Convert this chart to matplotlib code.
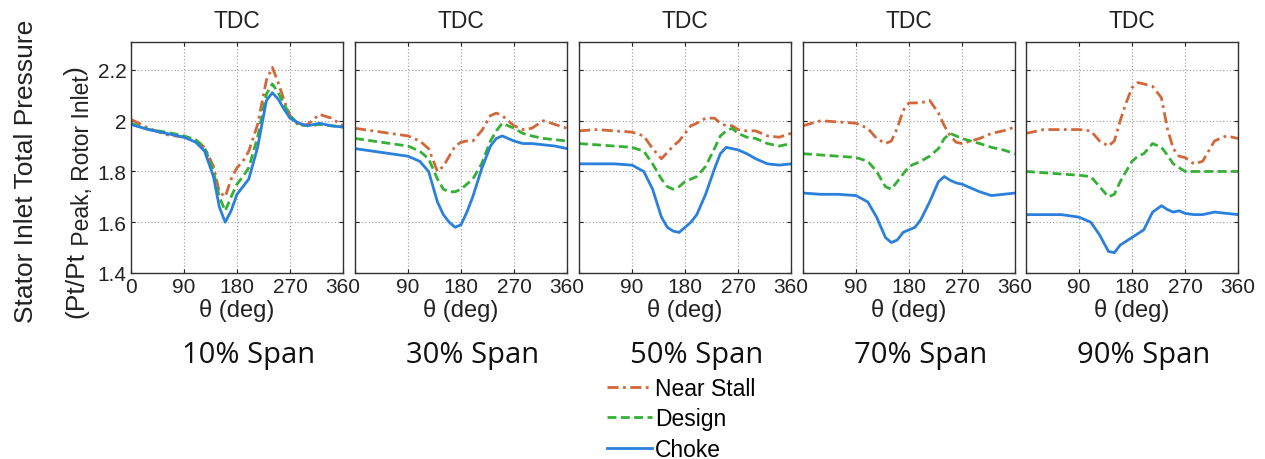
import matplotlib
matplotlib.use("Agg")
import matplotlib.pyplot as plt

plt.rcParams["font.family"] = ["Liberation Sans", "DejaVu Sans"]

# Circumferential position (deg)
theta = [0, 30, 60, 90, 110, 125, 140, 150, 160, 170, 180, 190,
         200, 215, 230, 240, 250, 260, 270, 285, 300, 320, 340, 360]

span_labels = ["10% Span", "30% Span", "50% Span", "70% Span", "90% Span"]
series_labels = ["Near Stall", "Design", "Choke"]

# 10% span
near_stall_10 = [2.005, 1.97, 1.945, 1.935, 1.92, 1.895, 1.82, 1.72, 1.70, 1.77, 1.815, 1.84,
                 1.88, 1.985, 2.16, 2.21, 2.15, 2.08, 2.02, 1.98, 1.985, 2.025, 2.01, 1.98]
design_10 = [1.99, 1.965, 1.955, 1.94, 1.925, 1.895, 1.80, 1.70, 1.645, 1.70, 1.75, 1.78,
             1.815, 1.935, 2.105, 2.145, 2.11, 2.065, 2.02, 1.985, 1.98, 1.985, 1.98, 1.975]
choke_10 = [1.985, 1.965, 1.95, 1.935, 1.915, 1.88, 1.78, 1.66, 1.60, 1.645, 1.71, 1.74,
            1.77, 1.895, 2.08, 2.11, 2.085, 2.045, 2.01, 1.99, 1.98, 1.99, 1.98, 1.975]

# 30% span
near_stall_30 = [1.97, 1.96, 1.95, 1.94, 1.92, 1.89, 1.80, 1.82, 1.86, 1.90, 1.915, 1.92,
                 1.92, 1.96, 2.02, 2.03, 2.02, 2.00, 1.98, 1.965, 1.97, 2.00, 1.985, 1.97]
design_30 = [1.93, 1.92, 1.91, 1.90, 1.88, 1.85, 1.77, 1.73, 1.72, 1.72, 1.73, 1.75,
             1.77, 1.83, 1.92, 1.96, 1.99, 1.98, 1.97, 1.95, 1.94, 1.93, 1.925, 1.92]
choke_30 = [1.89, 1.88, 1.87, 1.86, 1.84, 1.80, 1.68, 1.63, 1.60, 1.58, 1.59, 1.64,
            1.70, 1.81, 1.90, 1.93, 1.94, 1.93, 1.92, 1.91, 1.91, 1.905, 1.90, 1.89]

# 50% span
near_stall_50 = [1.96, 1.965, 1.96, 1.955, 1.94, 1.89, 1.85, 1.875, 1.90, 1.92, 1.95, 1.98,
                 1.99, 2.01, 2.01, 1.99, 1.98, 1.98, 1.965, 1.96, 1.96, 1.94, 1.935, 1.95]
design_50 = [1.91, 1.905, 1.90, 1.895, 1.88, 1.83, 1.77, 1.74, 1.73, 1.74, 1.76, 1.77,
             1.78, 1.82, 1.89, 1.94, 1.96, 1.97, 1.95, 1.935, 1.93, 1.91, 1.90, 1.91]
choke_50 = [1.83, 1.83, 1.83, 1.825, 1.80, 1.73, 1.62, 1.58, 1.565, 1.56, 1.58, 1.60,
            1.63, 1.71, 1.81, 1.87, 1.895, 1.89, 1.885, 1.87, 1.85, 1.83, 1.825, 1.83]

# 70% span
near_stall_70 = [1.98, 2.00, 1.995, 1.99, 1.97, 1.93, 1.91, 1.92, 1.97, 2.04, 2.07, 2.07,
                 2.07, 2.08, 2.03, 1.98, 1.94, 1.915, 1.91, 1.92, 1.93, 1.95, 1.96, 1.975]
design_70 = [1.87, 1.865, 1.86, 1.855, 1.84, 1.80, 1.74, 1.73, 1.76, 1.79, 1.82, 1.83,
             1.84, 1.86, 1.89, 1.93, 1.95, 1.94, 1.93, 1.92, 1.91, 1.895, 1.885, 1.87]
choke_70 = [1.715, 1.71, 1.71, 1.705, 1.68, 1.62, 1.54, 1.52, 1.53, 1.56, 1.57, 1.58,
            1.61, 1.68, 1.76, 1.78, 1.765, 1.755, 1.75, 1.735, 1.72, 1.705, 1.71, 1.715]

# 90% span
near_stall_90 = [1.95, 1.965, 1.965, 1.965, 1.96, 1.92, 1.90, 1.92, 2.00, 2.07, 2.13, 2.15,
                 2.145, 2.135, 2.09, 1.97, 1.89, 1.86, 1.855, 1.83, 1.84, 1.92, 1.94, 1.93]
design_90 = [1.80, 1.795, 1.79, 1.785, 1.78, 1.74, 1.70, 1.71, 1.76, 1.80, 1.84, 1.86,
             1.87, 1.91, 1.895, 1.865, 1.83, 1.815, 1.80, 1.80, 1.80, 1.80, 1.80, 1.80]
choke_90 = [1.63, 1.63, 1.63, 1.62, 1.60, 1.55, 1.485, 1.48, 1.51, 1.525, 1.54, 1.555,
            1.57, 1.64, 1.665, 1.65, 1.64, 1.645, 1.635, 1.63, 1.63, 1.64, 1.635, 1.63]

panels = [
    (near_stall_10, design_10, choke_10),
    (near_stall_30, design_30, choke_30),
    (near_stall_50, design_50, choke_50),
    (near_stall_70, design_70, choke_70),
    (near_stall_90, design_90, choke_90),
]

x_ticks = [0, 90, 180, 270, 360]
y_ticks = [1.4, 1.6, 1.8, 2.0, 2.2]
y_tick_labels = ["1.4", "1.6", "1.8", "2", "2.2"]

styles = [
    dict(color="#d2683a", linestyle=(0, (4, 1.6, 1, 1.6)), linewidth=2.0),
    dict(color="#34b034", linestyle=(0, (3.2, 1.6)), linewidth=2.0),
    dict(color="#2a80dc", linestyle="-", linewidth=2.0),
]

W, H = 1265, 460
fig = plt.figure(figsize=(W / 100, H / 100), dpi=100)

lefts = [131, 355, 579, 803, 1026]
ax_w = 212
ax_top, ax_bottom = 43, 274

handles = []
for i, (left, data) in enumerate(zip(lefts, panels)):
    ax = fig.add_axes([left / W, 1 - ax_bottom / H, ax_w / W, (ax_bottom - ax_top) / H])
    for vals, st, lab in zip(data, styles, series_labels):
        ln, = ax.plot(theta, vals, label=lab, **st)
        if i == 0:
            handles.append(ln)
    ax.set_xlim(0, 360)
    ax.set_ylim(1.4, 2.31)
    ax.set_xticks(x_ticks)
    ax.set_yticks(y_ticks)
    if i == 0:
        ax.set_xticklabels([str(t) for t in x_ticks])
        ax.set_yticklabels(y_tick_labels)
    else:
        ax.set_xticklabels([""] + [str(t) for t in x_ticks[1:]])
        ax.set_yticklabels([])
    ax.tick_params(direction="in", length=3, width=0.8, top=True, right=True,
                   labelsize=15, pad=3, colors="#222222")
    ax.grid(True, linestyle=(0, (1, 2)), color="#9a9a9a", linewidth=0.8)
    for sp in ax.spines.values():
        sp.set_color("#333333")
        sp.set_linewidth(1.0)
    ax.set_title("TDC", fontsize=16.5, pad=11, color="#222222")
    ax.set_xlabel("θ (deg)", fontsize=17, labelpad=1, color="#222222")
    cx = (left + ax_w / 2 + 12) / W
    fig.text(cx, 1 - 363 / H, span_labels[i], family=["Open Sans", "DejaVu Sans"],
             fontsize=21, ha="center", va="baseline", color="#111111")

fig.text(26 / W, 1 - 171 / H, "Stator Inlet Total Pressure", rotation=90,
         fontsize=19, ha="center", va="center", color="#222222")

# Second y-label line: "(Pt/Pt" + subscript + ")" stacked upward along a common baseline
renderer = fig.canvas.get_renderer()
base_x = 83
y_cursor = 318
pieces = [("(Pt/Pt", 19, 0), (" Peak, Rotor Inlet", 16.5, 6), (")", 19, 0)]
for txt, fs, shift in pieces:
    t = fig.text((base_x + shift) / W, 1 - y_cursor / H, txt, rotation=90,
                 rotation_mode="anchor", ha="left", va="baseline",
                 fontsize=fs, color="#222222")
    bb = t.get_window_extent(renderer=renderer)
    y_cursor -= bb.height

fig.legend(handles, series_labels, loc="upper left",
           bbox_to_anchor=(607 / W, 1 - 378 / H), frameon=False,
           fontsize=16.5, handlelength=1.95, handletextpad=0.15, labelspacing=0.32,
           borderaxespad=0, borderpad=0)

fig.savefig("out.png", dpi=100, facecolor="white")
